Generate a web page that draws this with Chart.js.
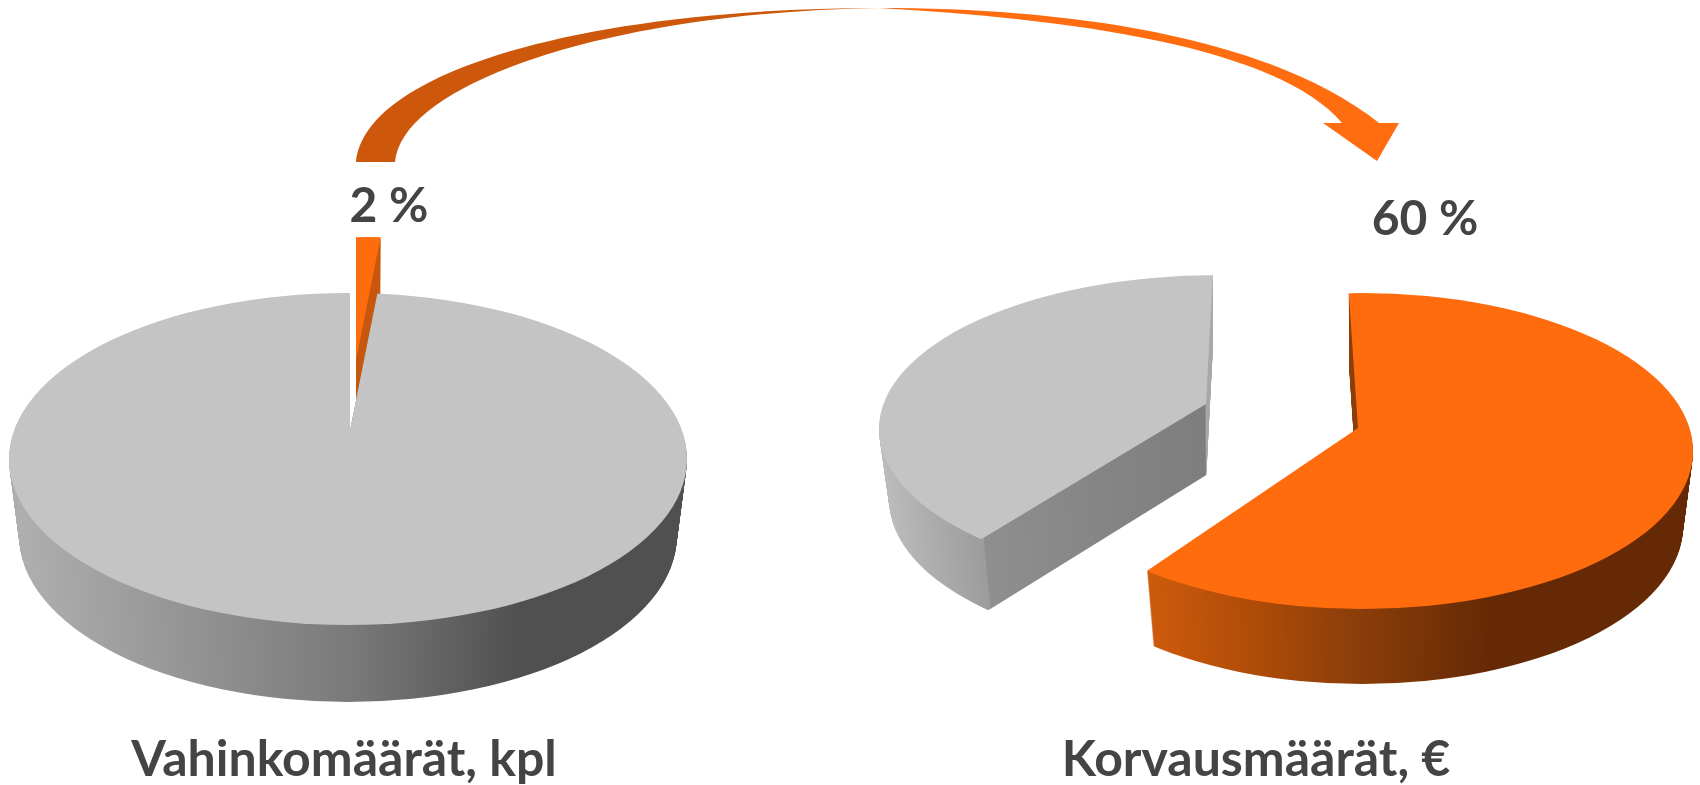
<!DOCTYPE html>
<html>
<head>
<meta charset="utf-8">
<title>Vahinkomäärät ja korvausmäärät</title>
<script src="https://cdn.jsdelivr.net/npm/chart.js@4"></script>
<style>
  html, body { margin: 0; padding: 0; background: #fff; overflow: hidden; }
  canvas, svg { position: absolute; top: 0; }
  #countChart { left: 0; }
  #sumChart { left: 812px; }
  #arrow { left: 0; }
</style>
</head>
<body>
<canvas id="countChart" width="688" height="785"></canvas>
<canvas id="sumChart" width="888" height="785"></canvas>
<svg id="arrow" width="1700" height="785" viewBox="0 0 1700 785">
  <defs>
    <linearGradient id="arrowFill" gradientUnits="userSpaceOnUse" x1="830" y1="0" x2="920" y2="0">
      <stop offset="0" stop-color="#cd570b"/>
      <stop offset="1" stop-color="#ff6d10"/>
    </linearGradient>
  </defs>
  <path fill="url(#arrowFill)" d="M356,162 C365,70 590,8 879,8 C1100,8 1280,45 1379,123 L1399,123 L1377,161 L1323,123 L1342,123 C1280,50 1090,20 879,8 C620,12 403,80 395,162 Z"/>
</svg>

<script>
  const sliceNames = ["Osuus", "Muut"];
  const countValues = [2, 98];
  const sumValues = [60, 40];
  const countTitle = "Vahinkomäärät, kpl";
  const sumTitle = "Korvausmäärät, €";

  const orange = "#ff6c0e";
  const gray = "#c4c4c4";
  const textColor = "#444444";
  const labelFont = 'bold 48px "Lato"';

  // draws the library's arcs squashed and extruded, so the pie looks tilted
  const tiltedPie = {
    id: "tiltedPie",
    beforeDatasetsDraw(chart, args, opts) {
      const ctx = chart.ctx;
      const meta = chart.getDatasetMeta(0);

      ctx.save();
      ctx.translate(-opts.canvasLeft, 0);

      opts.slices.forEach(function (s) {
        const arc = meta.data[s.index];
        const topOptions = arc.options;
        const startAngle = arc.startAngle;
        const endAngle = arc.endAngle;
        const turn = ((s.turn || 0) * Math.PI) / 180;
        arc.startAngle += turn;
        arc.endAngle += turn;

        // gradient stops are given in page x, the fill is in arc space
        const first = s.side[0][0];
        const last = s.side[s.side.length - 1][0];
        const grad = ctx.createLinearGradient(
          arc.x + first - s.apexX, 0,
          arc.x + last - s.apexX, 0
        );
        s.side.forEach(function (stop) {
          grad.addColorStop((stop[0] - first) / (last - first), stop[1]);
        });
        const sideOptions = Object.assign({}, topOptions, { backgroundColor: grad });

        const paint = function (d) {
          const scale = 1 - (opts.shrink * d) / s.depth;
          ctx.save();
          ctx.translate(s.ellipseX, s.ellipseY + d);
          ctx.scale(scale, 1);
          ctx.beginPath();
          ctx.ellipse(0, 0, s.rx, s.ry, 0, 0, Math.PI * 2);
          ctx.clip();
          ctx.translate(s.apexX - s.ellipseX, s.apexY - s.ellipseY);
          ctx.scale(1, opts.squash);
          ctx.translate(-arc.x, -arc.y);
          arc.draw(ctx);
          ctx.restore();
        };

        arc.options = sideOptions;
        for (let d = s.depth; d > 0; d -= 1) {
          paint(d);
        }
        arc.options = topOptions;
        paint(0);

        arc.startAngle = startAngle;
        arc.endAngle = endAngle;
      });

      ctx.restore();
      return false;
    },
    afterDraw(chart, args, opts) {
      const ctx = chart.ctx;
      const values = chart.data.datasets[0].data;
      ctx.save();
      ctx.font = labelFont;
      ctx.fillStyle = textColor;
      ctx.textAlign = "center";
      ctx.textBaseline = "alphabetic";
      ctx.fillText(values[0] + " %", opts.labelX - opts.canvasLeft, opts.labelY);
      ctx.restore();
    },
  };

  function makePie(id, values, title, rotation, shape) {
    return new Chart(document.getElementById(id), {
      type: "pie",
      data: {
        labels: sliceNames,
        datasets: [
          {
            data: values,
            backgroundColor: [orange, gray],
            borderWidth: 0,
          },
        ],
      },
      options: {
        responsive: false,
        animation: false,
        radius: 700,
        rotation: rotation,
        plugins: {
          legend: { display: false },
          tooltip: { enabled: false },
          title: {
            display: true,
            text: title,
            position: "bottom",
            color: textColor,
            font: { family: "Lato", size: 50, weight: "bold", lineHeight: 1 },
            padding: 0,
          },
          tiltedPie: shape,
        },
      },
      plugins: [tiltedPie],
    });
  }

  const grayShade = [
    [20, "#aeaeae"],
    [350, "#7a7a7a"],
    [520, "#505050"],
    [690, "#505050"],
  ];

  const countChart = makePie("countChart", countValues, countTitle, 0, {
    canvasLeft: 0,
    shrink: 0.03,
    squash: 0.63,
    labelX: 389,
    labelY: 222,
    slices: [
      {
        index: 0,
        depth: 77,
        rx: 339,
        ry: 166,
        apexX: 356,
        apexY: 360,
        ellipseX: 369,
        ellipseY: 403,
        side: [[300, "#c8570e"], [420, "#c8570e"]],
      },
      {
        index: 1,
        depth: 77,
        rx: 339,
        ry: 166,
        apexX: 350,
        apexY: 430,
        ellipseX: 348,
        ellipseY: 459,
        side: grayShade,
      },
    ],
  });

  const sumChart = makePie("sumChart", sumValues, sumTitle, -1.8, {
    canvasLeft: 812,
    shrink: 0.03,
    squash: 0.46,
    labelX: 1425,
    labelY: 235,
    slices: [
      {
        index: 1,
        depth: 71,
        turn: 3.2,
        rx: 339,
        ry: 154,
        apexX: 1206,
        apexY: 404,
        ellipseX: 1218,
        ellipseY: 429,
        side: [
          [880, "#bcbcbc"],
          [983, "#9c9c9c"],
          [984, "#8f8f8f"],
          [1100, "#858585"],
          [1205, "#7e7e7e"],
          [1206, "#a8a8a8"],
          [1230, "#a8a8a8"],
        ],
      },
      {
        index: 0,
        depth: 75,
        rx: 331,
        ry: 158,
        apexX: 1358,
        apexY: 428,
        ellipseX: 1362,
        ellipseY: 451,
        side: [
          [1150, "#cc5a0c"],
          [1250, "#b04c08"],
          [1340, "#90400a"],
          [1490, "#652a05"],
          [1700, "#652a05"],
        ],
      },
    ],
  });
</script>
</body>
</html>
